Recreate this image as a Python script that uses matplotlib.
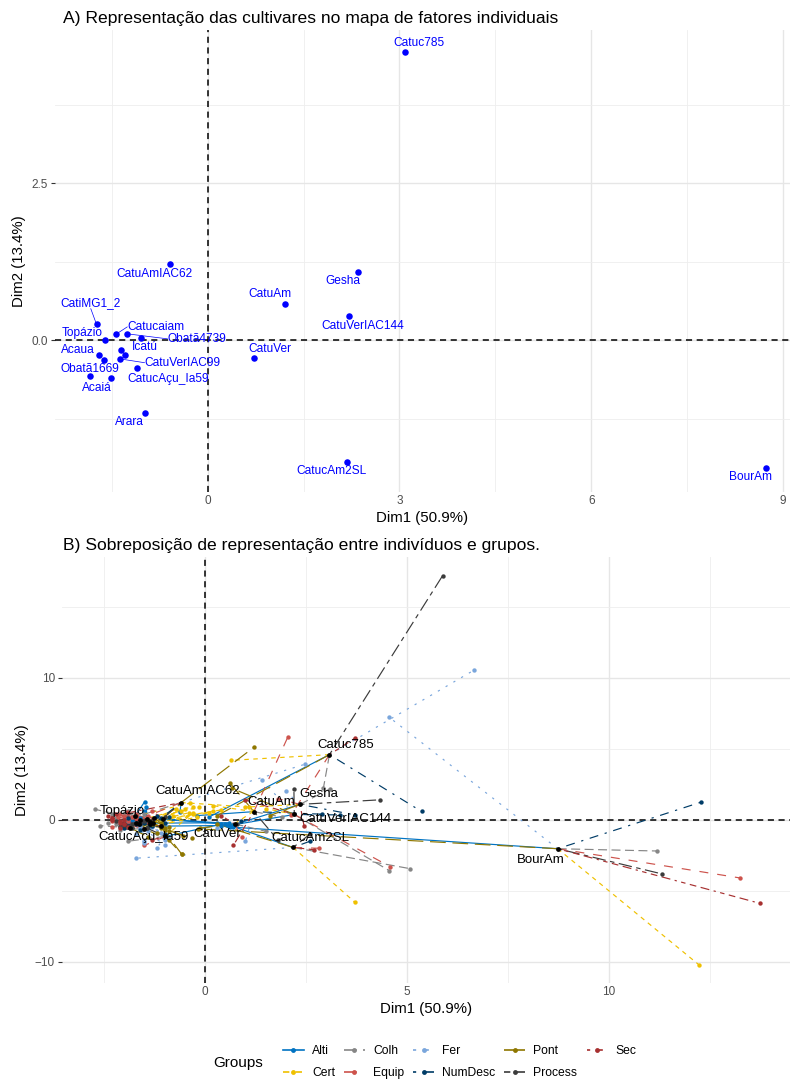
import matplotlib
matplotlib.use("Agg")
import matplotlib.pyplot as plt
from matplotlib.lines import Line2D

plt.rcParams['font.family'] = ['Liberation Sans', 'DejaVu Sans']

# individuals (centroid coordinates on Dim1 / Dim2)
cultivars = ["Catuc785", "CatuAmIAC62", "Gesha", "CatuAm", "CatuVerIAC144",
             "CatiMG1_2", "Catucaiam", "Obatã4739", "", "Topázio", "Icatú", "",
             "CatuVerIAC99", "Acaua", "", "CatucAçu_Ia59", "Obatã1669", "Acaiá",
             "Arara", "CatuVer", "CatucAm2SL", "BourAm"]
dim1 = [3.08, -0.59, 2.35, 1.21, 2.21, -1.74, -1.44, -1.26, -1.04, -1.60, -1.35,
        -1.29, -1.37, -1.70, -1.63, -1.10, -1.85, -1.51, -0.98, 0.73, 2.18, 8.73]
dim2 = [4.59, 1.22, 1.09, 0.58, 0.38, 0.25, 0.09, 0.10, 0.04, 0.00, -0.15,
        -0.23, -0.30, -0.24, -0.32, -0.44, -0.57, -0.61, -1.16, -0.28, -1.94, -2.03]

groups = ["Alti", "Cert", "Colh", "Equip", "Fer", "NumDesc", "Pont", "Process", "Sec"]

# partial points of every individual, one list per group (same order as cultivars)
alti = [(0.1, 0.2), (-0.62, 0.58), (0.7, -0.35), (-0.2, 0.3), (0.6, -0.4),
        (-1.49, 1.29), (-1.45, 0.9), (0.3, -0.2), (0.5, -0.3), (-1.7, 0.2),
        (-1.5, 0.6), (0.6, -0.2), (-1.6, 0.1), (-1.8, 0.0), (-1.9, -0.1),
        (0.4, -0.4), (-2.0, -0.3), (-1.7, -0.2), (0.4, -0.3), (0.55, -0.35),
        (0.7, -0.47), (0.62, -0.5)]
cert = [(0.65, 4.19), (1.1, 0.9), (1.0, 0.9), (0.2, 1.0), (1.5, 0.8),
        (-0.37, 1.18), (-0.14, 0.89), (-0.71, 0.78), (0.4, 0.7), (-0.29, 0.94),
        (0.2, 0.6), (-0.5, 0.8), (0.1, 0.5), (-0.6, 0.6), (-0.4, 0.5),
        (-0.3, 0.4), (-0.8, 0.3), (-0.2, 0.2), (-0.3, 0.5), (1.2, 0.6),
        (3.71, -5.8), (12.23, -10.21)]
colh = [(2.93, 2.23), (-1.5, 0.4), (3.09, 2.18), (1.9, 0.2), (4.56, -3.57),
        (-2.3, 0.4), (-2.0, 0.5), (-1.9, 0.6), (-1.7, 0.3), (-2.73, 0.75),
        (-1.8, 0.2), (-1.9, 0.0), (-2.2, -0.3), (-2.4, -0.2), (-2.2, 0.1),
        (-1.8, -0.6), (-2.6, -0.4), (-2.1, -0.7), (-1.9, -1.5), (1.5, -0.8),
        (5.07, -3.43), (11.18, -2.19)]
equip = [(2.13, 0.33), (-1.4, 0.3), (1.8, 1.5), (2.05, 5.83), (4.58, -3.29),
         (-2.15, 0.19), (-1.94, 0.58), (-1.7, 0.4), (-1.3, 0.6), (-2.0, 0.3),
         (-1.9, -0.1), (-1.8, 0.2), (-1.7, 0.1), (-2.1, 0.4), (-2.3, -0.1),
         (-1.6, -0.3), (-2.3, -0.5), (-2.0, -0.3), (-1.5, -1.8), (0.91, -1.22),
         (2.83, -2.0), (13.25, -4.09)]
fer = [(6.66, 10.54), (2.48, 3.92), (2.0, 2.0), (1.0, -1.5), (1.4, 2.8),
       (-1.6, -0.6), (-1.2, -0.9), (-1.3, -0.5), (-1.6, -0.4), (-1.1, -0.9),
       (-1.4, -1.2), (-1.5, -1.5), (-0.9, -1.3), (-1.4, -0.8), (-1.0, -1.4),
       (-1.7, -1.0), (-1.5, -1.6), (-1.0, -1.8), (-1.2, -2.0), (0.3, -0.6),
       (-1.71, -2.7), (4.56, 7.22)]
numdesc = [(5.36, 0.59), (-1.1, 0.1), (3.71, 0.35), (2.9, 0.4), (3.34, 0.35),
           (-1.9, 0.1), (-1.5, -0.1), (-1.2, 0.3), (-0.9, 0.2), (-1.5, -0.2),
           (-1.3, -0.4), (-1.6, -0.3), (-1.4, -0.5), (-1.9, -0.4), (-1.7, -0.3),
           (-1.0, -0.2), (-2.0, -0.6), (-1.6, -0.7), (-1.0, -1.0), (0.9, -0.1),
           (2.6, -1.5), (12.28, 1.25)]
pont = [(0.3, 0.3), (1.22, 5.13), (1.6, 0.3), (0.62, 2.58), (0.66, 2.23),
        (-1.3, -0.3), (-0.9, -0.5), (-1.1, -0.2), (-1.0, -0.7), (-1.0, -0.6),
        (-0.9, -0.8), (-0.54, -1.13), (-0.33, -1.29), (-1.2, -0.9), (-1.1, -0.6),
        (-0.58, -2.4), (-1.4, -1.2), (-0.9, -1.4), (-0.58, -2.4), (-0.12, -0.58),
        (0.3, -0.3), (-0.17, -0.63)]
process = [(5.88, 17.18), (-1.0, 0.2), (4.32, 1.41), (1.8, -1.4), (2.2, 2.2),
           (-2.2, -0.1), (-1.8, -0.3), (-1.6, -0.2), (-1.5, -0.1), (-2.0, -0.3),
           (-1.9, -0.5), (-2.0, -0.2), (-2.1, -0.4), (-2.0, -0.35), (-1.98, -0.35),
           (-1.44, -0.58), (-2.1, -0.5), (-1.8, -0.6), (-1.44, -0.58), (0.8, -0.3),
           (2.6, -1.0), (11.32, -3.81)]
sec = [(3.71, 5.75), (-1.9, 0.5), (2.45, -0.4), (0.7, -1.8), (1.0, 1.4),
       (-2.3, 0.1), (-2.0, -0.3), (-2.1, -0.1), (-2.0, 0.0), (-2.1, -0.2),
       (-1.7, 0.25), (-2.4, 0.3), (-2.2, 0.4), (-1.9, -0.5), (-2.1, -0.6),
       (-2.3, 0.1), (-2.0, -0.3), (-2.3, 0.0), (-1.3, -1.4), (0.4, 0.3),
       (2.7, -2.1), (13.74, -5.88)]

partials = [alti, cert, colh, equip, fer, numdesc, pont, process, sec]

# ggsci "jco" colours and ggplot linetypes
colors = ["#0073C2", "#EFC000", "#868686", "#CD534C", "#7AA6DC",
          "#003C67", "#8F7700", "#3B3B3B", "#A73030"]
dash_units = [None, (2, 2), (4, 2), (4, 4), (1, 3), (1, 3, 4, 3), (7, 3),
              (2, 2, 6, 2), (1, 2, 2, 2, 3, 2, 4, 2)]

# label placement (offset from point, in data units) for panel A
labels_a = {
    "Catuc785": (0.23, 0.14, 'center', False),
    "CatuAmIAC62": (-0.24, -0.16, 'center', False),
    "Gesha": (-0.23, -0.15, 'center', False),
    "CatuAm": (-0.24, 0.15, 'center', False),
    "CatuVerIAC144": (0.22, -0.16, 'center', False),
    "CatiMG1_2": (-0.09, 0.25, 'center', True),
    "Catucaiam": (0.18, 0.12, 'left', True),
    "Obatã4739": (0.63, -0.08, 'left', True),
    "Topázio": (-0.37, 0.11, 'center', False),
    "Icatú": (0.37, 0.04, 'center', False),
    "CatuVerIAC99": (0.38, -0.06, 'left', True),
    "Acaua": (-0.34, 0.09, 'center', False),
    "Obatã1669": (0.0, 0.11, 'center', False),
    "CatucAçu_Ia59": (0.48, -0.18, 'center', False),
    "Acaiá": (-0.23, -0.15, 'center', False),
    "Arara": (-0.24, -0.15, 'center', False),
    "CatuVer": (0.24, 0.14, 'center', False),
    "CatucAm2SL": (-0.25, -0.15, 'center', False),
    "BourAm": (-0.24, -0.15, 'center', False),
}
labels_b = {
    "Topázio": (-0.45, 0.65), "CatuAmIAC62": (0.42, 0.78),
    "CatucAçu_Ia59": (-0.41, -0.73), "CatuVer": (-0.42, -0.72),
    "CatuAm": (0.42, 0.71), "Gesha": (0.47, 0.72), "Catuc785": (0.41, 0.69),
    "CatuVerIAC144": (1.26, -0.33), "CatucAm2SL": (0.42, 0.65),
    "BourAm": (-0.42, -0.77),
}


def style_axes(ax, xmaj, xmin, ymaj, ymin):
    for s in ax.spines.values():
        s.set_visible(False)
    ax.set_xticks(xmaj)
    ax.set_xticks(xmin, minor=True)
    ax.set_yticks(ymaj)
    ax.set_yticks(ymin, minor=True)
    ax.grid(which='major', color='#E6E6E6', lw=1.0)
    ax.grid(which='minor', color='#EEEEEE', lw=0.6)
    ax.set_axisbelow(True)
    ax.tick_params(axis='x', which='both', length=0, labelsize=8.5,
                   labelcolor='#4D4D4D', pad=2)
    ax.tick_params(axis='y', which='major', length=3, width=0.8, color='#333333',
                   labelsize=8.5, labelcolor='#4D4D4D', pad=2)
    ax.tick_params(axis='y', which='minor', length=0)
    ax.axhline(0, color='black', lw=1.1, ls=(0, (4, 3)), zorder=1)
    ax.axvline(0, color='black', lw=1.1, ls=(0, (4, 3)), zorder=1)


W, H = 790, 1083
fig = plt.figure(figsize=(W / 100, H / 100), dpi=100)

# ---- panel A
axA = fig.add_axes([55 / W, 1 - 492 / H, (W - 55) / W, (492 - 30) / H])
style_axes(axA, [0, 3, 6, 9], [-1.5, 1.5, 4.5, 7.5], [0, 2.5], [-1.25, 1.25, 3.75])
axA.set_yticklabels(["0.0", "2.5"])
axA.set_xlim(-2.39, 9.11)
axA.set_ylim(-2.42, 4.94)
axA.scatter(dim1, dim2, s=22, color='#0000FF', zorder=3, linewidths=0)
for name, x, y in zip(cultivars, dim1, dim2):
    if name not in labels_a:
        continue
    dx, dy, ha, seg = labels_a[name]
    if seg:
        axA.plot([x, x + dx], [y, y + dy], color='#0000FF', lw=0.5, zorder=2)
    axA.text(x + dx, y + dy, name, color='#0000FF', fontsize=8.6, ha=ha,
             va='bottom' if name == "CatiMG1_2" else 'center', zorder=4)
axA.set_title("A) Representação das cultivares no mapa de fatores individuais",
              loc='left', fontsize=12.6, pad=5, x=8 / (W - 55))
axA.set_xlabel("Dim1 (50.9%)", fontsize=10.8, labelpad=3)
axA.set_ylabel("Dim2 (13.4%)", fontsize=10.8, labelpad=4)

# ---- panel B
axB = fig.add_axes([62 / W, 1 - 983 / H, (W - 62) / W, (983 - 557) / H])
style_axes(axB, [0, 5, 10], [-2.5, 2.5, 7.5, 12.5], [-10, 0, 10], [-5, 5, 15])
axB.set_xlim(-3.54, 14.48)
axB.set_ylim(-11.48, 18.5)

lw = 0.85
handles = []
for g, pts, col, du in zip(groups, partials, colors, dash_units):
    ls = '-' if du is None else (0, tuple(d * 1.9 for d in du))
    for (px, py), cx, cy in zip(pts, dim1, dim2):
        axB.plot([cx, px], [cy, py], color=col, lw=lw, ls=ls, zorder=2)
    handles.append(Line2D([], [], color=col, lw=1.2, ls=ls, marker='o',
                          markersize=3.5, markeredgewidth=0))
for pts, col in zip(partials, colors):
    axB.scatter([p[0] for p in pts], [p[1] for p in pts], s=10, color=col,
                zorder=3, linewidths=0)
axB.scatter(dim1, dim2, s=12, color='black', zorder=4, linewidths=0)
for name, x, y in zip(cultivars, dim1, dim2):
    if name in labels_b:
        dx, dy = labels_b[name]
        axB.text(x + dx, y + dy, name, fontsize=9.5, ha='center', va='center',
                 color='black', zorder=5)
axB.set_title("B) Sobreposição de representação entre indivíduos e grupos.",
              loc='left', fontsize=12.6, pad=5, x=1 / (W - 62))
axB.set_xlabel("Dim1 (50.9%)", fontsize=10.8, labelpad=3)
axB.set_ylabel("Dim2 (13.4%)", fontsize=10.8, labelpad=4)

# ---- legend
fig.text(213 / W, 1 - 1063 / H, "Groups", fontsize=11, va='center', ha='left')
fig.legend(handles, groups, loc='center left', ncol=5,
           bbox_to_anchor=(277 / W, 1 - 1062 / H), frameon=False,
           fontsize=8.7, handlelength=1.7, handletextpad=0.7,
           columnspacing=0.75, labelspacing=0.85, borderpad=0)

fig.savefig("out.png", dpi=100)
